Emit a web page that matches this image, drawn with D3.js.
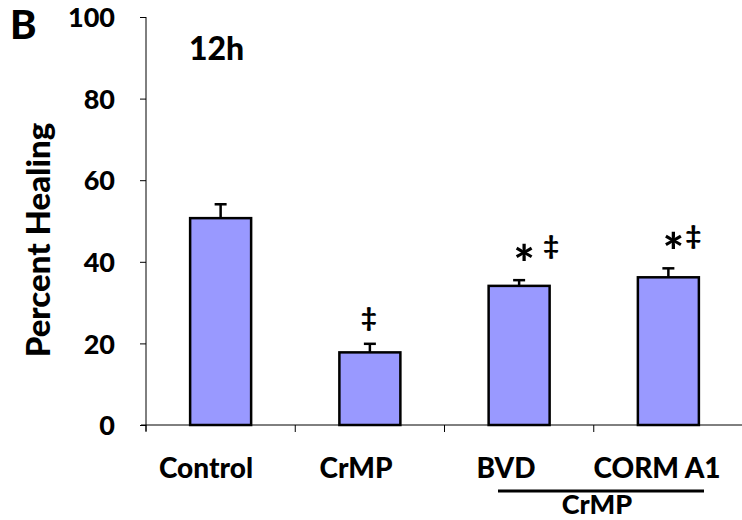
<!DOCTYPE html>
<html><head><meta charset="utf-8">
<script src="https://cdn.jsdelivr.net/npm/d3@7"></script>
<style>body{margin:0;background:#fff}svg{display:block}text{font-family:Lato,"Open Sans",sans-serif;font-weight:900;fill:#000}</style>
</head><body>
<svg id="c" width="742" height="520"></svg>
<script>
const categories = ["Control", "CrMP", "BVD", "CORM A1"];
const values = [50.7, 17.8, 34.1, 36.2];
const errors = [3.4, 2.1, 1.4, 2.2];
const marks = [[], ["‡"], ["*", "‡"], ["*", "‡"]];
const yTicks = [0, 20, 40, 60, 80, 100];

const svg = d3.select("#c");
const x = d3.scaleBand().domain(categories).range([146, 743]).paddingInner(0).paddingOuter(0);
const y = d3.scaleLinear().domain([0, 100]).range([425, 17]);
const barW = 61;

// y axis
const ya = svg.append("g").attr("transform", "translate(146,0)")
  .call(d3.axisLeft(y).tickValues(yTicks).tickSize(6).tickPadding(25));
ya.selectAll("text").style("font-size", "27px").attr("font-family", null).attr("dy", "0.36em");
ya.selectAll(".tick line").attr("stroke", "#000");
ya.select(".domain").remove();
svg.append("line").attr("x1", 146).attr("x2", 146).attr("y1", y(100)).attr("y2", y(0) + 6).attr("stroke", "#000");

// x axis line and ticks
svg.append("line").attr("x1", 141).attr("x2", 742).attr("y1", y(0)).attr("y2", y(0)).attr("stroke", "#000");
categories.forEach(c => {
  svg.append("line").attr("x1", x(c)).attr("x2", x(c)).attr("y1", y(0)).attr("y2", y(0) + 7).attr("stroke", "#000");
});

// bars
svg.selectAll("rect.bar").data(categories).join("rect").attr("class", "bar")
  .attr("x", d => x(d) + x.bandwidth() / 2 - barW / 2)
  .attr("width", barW)
  .attr("y", (d, i) => y(values[i]))
  .attr("height", (d, i) => y(0) - y(values[i]))
  .attr("fill", "#9999FF").attr("stroke", "#000").attr("stroke-width", 2.5);

// error bars
categories.forEach((c, i) => {
  const cx = x(c) + x.bandwidth() / 2;
  svg.append("line").attr("x1", cx).attr("x2", cx).attr("y1", y(values[i])).attr("y2", y(values[i] + errors[i]))
    .attr("stroke", "#000").attr("stroke-width", 2.5);
  svg.append("line").attr("x1", cx - 6).attr("x2", cx + 6).attr("y1", y(values[i] + errors[i])).attr("y2", y(values[i] + errors[i]))
    .attr("stroke", "#000").attr("stroke-width", 2.5);
});

// significance marks
const markPos = {
  "CrMP": [[-1, 30]],
  "BVD": [[5, 30], [32, 38]],
  "CORM A1": [[5, 30], [25, 36]]
};
categories.forEach((c, i) => {
  const cx = x(c) + x.bandwidth() / 2;
  const top = y(values[i] + errors[i]);
  marks[i].forEach((m, j) => {
    const p = markPos[c][j];
    svg.append("text").attr("x", cx + p[0]).attr("y", top - p[1] + (m === "*" ? 32 : 13))
      .attr("text-anchor", "middle")
      .style("font-size", m === "*" ? "50px" : "27px").text(m);
  });
});

// category labels
const labelX = {"Control": 206, "CrMP": 356, "BVD": 506, "CORM A1": 657};
categories.forEach(c => {
  svg.append("text").attr("x", labelX[c]).attr("y", 478).attr("text-anchor", "middle")
    .style("font-size", "28px").text(c);
});
svg.append("line").attr("x1", 498).attr("x2", 704).attr("y1", 491).attr("y2", 491).attr("stroke", "#000").attr("stroke-width", 3);
svg.append("text").attr("x", 597).attr("y", 514).attr("text-anchor", "middle").style("font-size", "27px").text("CrMP");

// y axis title
svg.append("text").attr("transform", "translate(50,240) rotate(-90)").attr("text-anchor", "middle")
  .style("font-size", "33px").text("Percent Healing");

// panel letter and time
svg.append("text").attr("x", 10).attr("y", 39).style("font-size", "40px").text("B");
svg.append("text").attr("x", 189).attr("y", 60).style("font-size", "32px").text("12h");
</script>
</body></html>
